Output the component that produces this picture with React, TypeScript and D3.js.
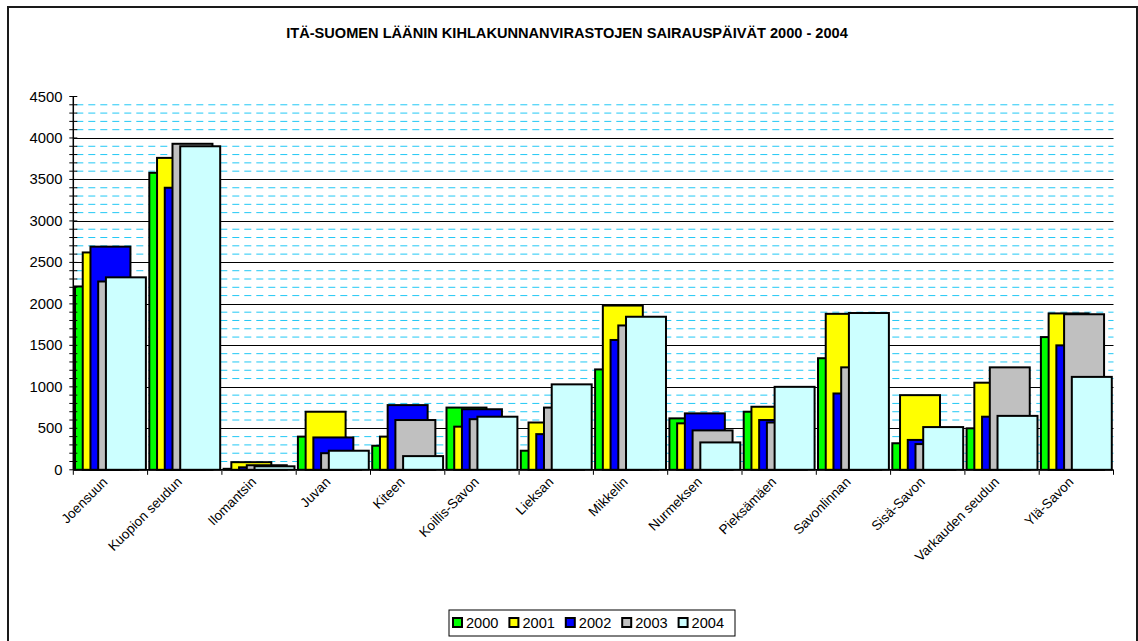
import React from "react";
import * as d3 from "d3";

const categories = ["Joensuun", "Kuopion seudun", "Ilomantsin", "Juvan", "Kiteen", "Koillis-Savon", "Lieksan", "Mikkelin", "Nurmeksen", "Pieksämäen", "Savonlinnan", "Sisä-Savon", "Varkauden seudun", "Ylä-Savon"];
const years = ["2000", "2001", "2002", "2003", "2004"];
const v2000 = [2210, 3580, 12, 400, 290, 750, 230, 1210, 620, 700, 1345, 320, 500, 1600];
const v2001 = [2620, 3760, 92, 700, 400, 520, 570, 1980, 560, 760, 1880, 900, 1050, 1885];
const v2002 = [2690, 3400, 30, 390, 780, 730, 430, 1565, 680, 600, 920, 360, 640, 1500];
const v2003 = [2270, 3930, 55, 200, 600, 610, 750, 1740, 475, 570, 1235, 310, 1235, 1875];
const v2004 = [2320, 3900, 42, 230, 165, 640, 1030, 1845, 330, 1000, 1890, 515, 650, 1120];
const series = [v2000, v2001, v2002, v2003, v2004];
const colors = ["#00ff00", "#ffff00", "#0000ff", "#c0c0c0", "#ccffff"];
const yTicks = [0, 500, 1000, 1500, 2000, 2500, 3000, 3500, 4000, 4500];
const title = "ITÄ-SUOMEN LÄÄNIN KIHLAKUNNANVIRASTOJEN SAIRAUSPÄIVÄT 2000 - 2004";

const W = 1138, H = 641;
const left = 73.3, right = 1113.5, top = 96.5, bottom = 469.8;
const FONT = "'Liberation Sans', Arial, sans-serif";

export default function App() {
  const x = d3.scaleBand<string>().domain(categories).range([left, right]).padding(0);
  const y = d3.scaleLinear().domain([0, 4500]).range([bottom, top]);
  const bw = x.bandwidth();
  const barW = bw * 0.538;
  const step = bw * 0.104;
  const off = bw * 0.023;
  const minor = d3.range(0, 4501, 100).filter((v) => v % 500 !== 0);

  return (
    <svg width={W} height={H} style={{ position: "absolute", left: 0, top: 0, background: "#fff" }} fontFamily={FONT}>
      <rect x={0} y={0} width={W} height={H} fill="#fff" />
      <rect x={8} y={7} width={1129} height={H} fill="none" stroke="#1a1a1a" strokeWidth={2} />
      <text x={567} y={37.5} textAnchor="middle" fontSize={14.6} fontWeight="bold" fill="#000">{title}</text>

      {minor.map((v) => (
        <line key={"m" + v} x1={left + 3} x2={right} y1={y(v)} y2={y(v)} stroke="#22c8f5" strokeWidth={1} strokeDasharray="7,5" />
      ))}
      {yTicks.filter((v) => v > 0 && v < 4500).map((v) => (
        <line key={"g" + v} x1={left} x2={right} y1={Math.round(y(v)) + 0.5} y2={Math.round(y(v)) + 0.5} stroke="#000" strokeWidth={1} />
      ))}

      {series.map((vals, si) =>
        categories.map((c, ci) => (
          <rect key={si + "-" + ci}
            x={(x(c) as number) + off + si * step}
            y={y(vals[ci])}
            width={barW}
            height={bottom - y(vals[ci])}
            fill={colors[si]} stroke="#000" strokeWidth={2} />
        ))
      )}

      {/* y axis */}
      <line x1={left} x2={left} y1={top} y2={bottom} stroke="#000" strokeWidth={1.5} />
      {d3.range(0, 4501, 100).map((v) => (
        <line key={"t" + v} x1={left - 4} x2={left + 4} y1={y(v)} y2={y(v)} stroke="#000" strokeWidth={1} />
      ))}
      {yTicks.map((v) => (
        <text key={"yl" + v} x={62.5} y={y(v) + 5} textAnchor="end" fontSize={14.8} fill="#000">{v}</text>
      ))}

      {/* x axis */}
      <line x1={left} x2={right} y1={bottom} y2={bottom} stroke="#000" strokeWidth={1.5} />
      {d3.range(0, categories.length + 1).map((i) => (
        <line key={"xt" + i} x1={left + i * bw} x2={left + i * bw} y1={bottom} y2={bottom + 5} stroke="#000" strokeWidth={1} />
      ))}
      {categories.map((c) => {
        const cx = (x(c) as number) + bw / 2 - 2;
        const cy = bottom + 13;
        return (
          <text key={"xl" + c} x={cx} y={cy} transform={`rotate(-45 ${cx} ${cy})`} textAnchor="end" fontSize={13.5} fill="#000">{c}</text>
        );
      })}

      {/* legend */}
      <rect x={449} y={610} width={286} height={26} fill="#fff" stroke="#000" strokeWidth={1} />
      {years.map((yr, i) => (
        <g key={yr} transform={`translate(${453 + i * 56.4},${618})`}>
          <rect x={0} y={0} width={9} height={9} fill={colors[i]} stroke="#000" strokeWidth={2} />
          <text x={13} y={10} fontSize={14.6} fill="#000">{yr}</text>
        </g>
      ))}
    </svg>
  );
}
